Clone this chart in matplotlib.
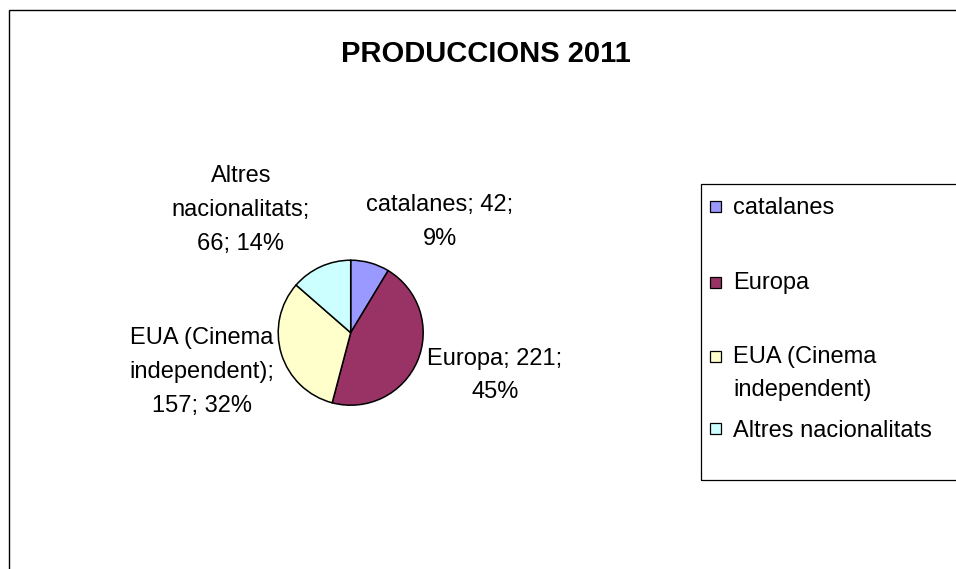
#!/usr/bin/env python3
"""Pie chart: PRODUCCIONS 2011 (Excel-style look)."""

import matplotlib

matplotlib.use("Agg")
import matplotlib.pyplot as plt
from matplotlib.patches import Rectangle

plt.rcParams["font.family"] = ["Liberation Sans", "DejaVu Sans"]

W, H = 956, 569

# --- data -----------------------------------------------------------------
categories = ["catalanes", "Europa", "EUA (Cinema independent)", "Altres nacionalitats"]
values = [42, 221, 157, 66]
colors = ["#9999FF", "#993366", "#FFFFCC", "#CCFFFF"]
title = "PRODUCCIONS 2011"

# how each data label wraps (Excel wrapped them inside a fixed box)
label_names = ["catalanes", "Europa", "EUA (Cinema\nindependent)", "Altres\nnacionalitats"]
label_break = ["value", "value", "name", "name"]
legend_names = ["catalanes", "Europa", "EUA (Cinema\nindependent)", "Altres nacionalitats"]

# --- layout (pixels, origin top-left) -------------------------------------
PIE_C = (350.7, 332.7)
PIE_R = 72.5
label_pos = [(440, 222), (495, 375.5), (202, 372), (241, 210)]
legend_box = (701, 184, 480)  # left, top, bottom
legend_square_y = [206.5, 283, 356, 428.5]
legend_text_y = [207.5, 283.5, 373.5, 431]
FONT = 17
LSP = 1.68


def fx(x):
    return x / W


def fy(y):
    return 1 - y / H


def main() -> None:
    fig = plt.figure(figsize=(W / 100, H / 100), dpi=100)

    # outer chart-area frame (right/bottom edges fall outside the picture)
    fig.add_artist(Rectangle((fx(8.8), -0.2), 1.5, fy(10.5) + 0.2, transform=fig.transFigure,
                             fill=False, edgecolor="black", linewidth=1.0))

    fig.text(fx(486), fy(62.5), title, ha="center", va="baseline",
             fontsize=21, fontweight="bold")

    # pie
    half = PIE_R * 1.05
    ax = fig.add_axes([fx(PIE_C[0] - half), fy(PIE_C[1] + half), 2 * half / W, 2 * half / H])
    ax.pie(values, colors=colors, startangle=90, counterclock=False, radius=1,
           wedgeprops={"edgecolor": "black", "linewidth": 1.1})
    ax.set_xlim(-1.05, 1.05)
    ax.set_ylim(-1.05, 1.05)
    ax.set_aspect("equal")
    ax.axis("off")

    total = sum(values)
    for name, v, brk, (x, y) in zip(label_names, values, label_break, label_pos):
        pct = round(v / total * 100)
        if brk == "value":
            txt = f"{name}; {v};\n{pct}%"
        else:
            txt = f"{name};\n{v}; {pct}%"
        fig.text(fx(x), fy(y), txt, ha="center", va="center", fontsize=FONT,
                 linespacing=LSP, multialignment="center")

    # legend drawn by hand to keep Excel's uneven entry spacing
    left, top, bottom = legend_box
    fig.add_artist(Rectangle((fx(left), fy(bottom)), 1.0, fy(top) - fy(bottom),
                             transform=fig.transFigure, fill=False,
                             edgecolor="black", linewidth=0.9))
    sq = 11
    for name, c, sy, ty in zip(legend_names, colors, legend_square_y, legend_text_y):
        fig.add_artist(Rectangle((fx(710), fy(sy + sq / 2)), sq / W, sq / H,
                                 transform=fig.transFigure, facecolor=c,
                                 edgecolor="black", linewidth=0.9))
        fig.text(fx(733), fy(ty), name, ha="left", va="center", fontsize=FONT,
                 linespacing=LSP)

    fig.savefig("out.png", dpi=100)
    plt.close(fig)


if __name__ == "__main__":
    main()
